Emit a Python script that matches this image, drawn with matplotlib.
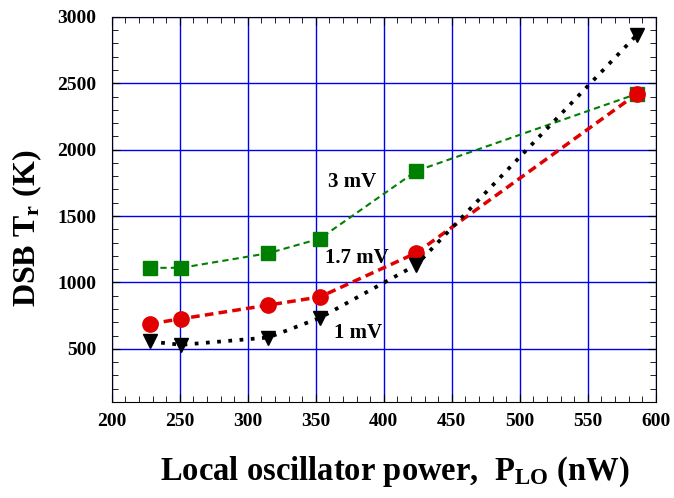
import matplotlib.pyplot as plt
from matplotlib.ticker import MultipleLocator

# data
p_lo = [228, 251, 315, 353, 424, 586]
t_3mv = [1110, 1110, 1220, 1330, 1840, 2420]
t_17mv = [688, 726, 829, 891, 1223, 2420]
t_1mv = [555, 530, 585, 733, 1133, 2864]

plt.rcParams['font.family'] = 'Liberation Serif'
plt.rcParams['font.weight'] = 'bold'
plt.rcParams['mathtext.fontset'] = 'custom'
plt.rcParams['mathtext.rm'] = 'Liberation Serif:bold'
plt.rcParams['mathtext.it'] = 'Liberation Serif:bold'
plt.rcParams['mathtext.bf'] = 'Liberation Serif:bold'

fig = plt.figure(figsize=(6.74, 4.98), dpi=100)
ax = fig.add_axes([0.166, 0.193, 0.807, 0.773])

ax.plot(p_lo, t_3mv, color='#008000', ls=(0, (3, 2)), lw=1.5,
        marker='s', ms=10, zorder=3)
ax.plot(p_lo, t_17mv, color='#e00000', ls=(0, (2.5, 1.5)), lw=2.5,
        marker='o', ms=11, zorder=4)
ax.plot(p_lo, t_1mv, color='black', ls=(0, (1, 2)), lw=2.7,
        marker='v', ms=10, zorder=5)

ax.text(377, 1757, '3 mV', fontsize=15, ha='center', va='center')
ax.text(380, 1185, '1.7 mV', fontsize=15, ha='center', va='center')
ax.text(381, 620, '1 mV', fontsize=15, ha='center', va='center')

ax.set_xlim(200, 600)
ax.set_ylim(100, 3000)
ax.xaxis.set_major_locator(MultipleLocator(50))
ax.xaxis.set_minor_locator(MultipleLocator(10))
ax.yaxis.set_major_locator(MultipleLocator(500))
ax.yaxis.set_minor_locator(MultipleLocator(100))
ax.tick_params(which='both', direction='in', top=True, right=True,
               labelsize=14)
ax.tick_params(axis='x', pad=8)
ax.tick_params(axis='y', pad=11)
ax.tick_params(which='major', length=6)
ax.tick_params(which='minor', length=4)
ax.grid(True, which='major', color='#0000ee', lw=1)

ax.set_xlabel('Local oscillator power,  P$_{\\rm LO}$ (nW)', fontsize=23.5,
              fontweight='bold')
ax.xaxis.set_label_coords(0.52, -0.138)
ax.set_ylabel('DSB T$_{\\rm r}$ (K)', fontsize=23, fontweight='bold')
ax.yaxis.set_label_coords(-0.124, 0.45)

fig.savefig('out.png', dpi=100)
